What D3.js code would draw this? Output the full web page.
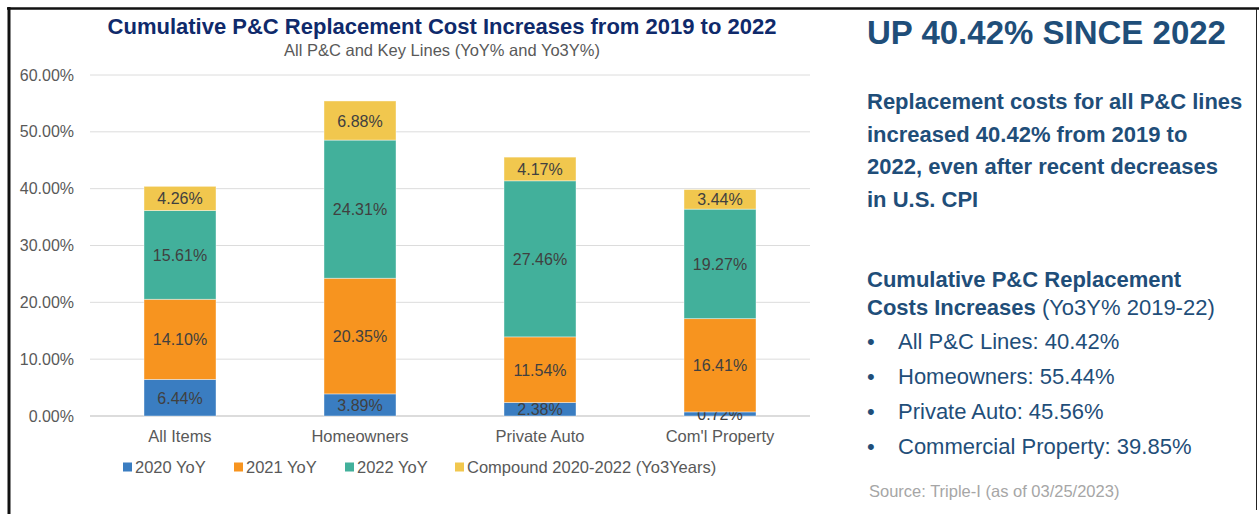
<!DOCTYPE html>
<html>
<head>
<meta charset="utf-8">
<script src="https://cdn.jsdelivr.net/npm/d3@7"></script>
<style>
  body { margin: 0; background: #fff; }
  svg { display: block; font-family: "Liberation Sans", Arial, sans-serif; }
</style>
</head>
<body>
<svg id="chart" width="1259" height="514"></svg>
<script>
const categories = ["All Items", "Homeowners", "Private Auto", "Com'l Property"];
const seriesNames = ["2020 YoY", "2021 YoY", "2022 YoY", "Compound 2020-2022 (Yo3Years)"];
const yoy2020 = [6.44, 3.89, 2.38, 0.72];
const yoy2021 = [14.10, 20.35, 11.54, 16.41];
const yoy2022 = [15.61, 24.31, 27.46, 19.27];
const compound = [4.26, 6.88, 4.17, 3.44];
const yTicks = [0, 10, 20, 30, 40, 50, 60];
const colours = ["#3A7DC1", "#F7941F", "#42B09B", "#F1C74E"];

const bullets = [
  "All P&C Lines: 40.42%",
  "Homeowners: 55.44%",
  "Private Auto: 45.56%",
  "Commercial Property: 39.85%"
];
const paragraph = [
  "Replacement costs for all P&C lines",
  "increased 40.42% from 2019 to",
  "2022, even after recent decreases",
  "in U.S. CPI"
];

const svg = d3.select("#chart");

// frame lines
svg.append("line").attr("x1", 7).attr("x2", 1259).attr("y1", 8.5).attr("y2", 8.5)
  .attr("stroke", "#111").attr("stroke-width", 2.5);
svg.append("line").attr("x1", 9).attr("x2", 9).attr("y1", 7).attr("y2", 514)
  .attr("stroke", "#111").attr("stroke-width", 3);
svg.append("line").attr("x1", 1256.5).attr("x2", 1256.5).attr("y1", 9).attr("y2", 510)
  .attr("stroke", "#222").attr("stroke-width", 1);

// data table for the stack
const table = categories.map((c, i) => ({
  cat: c,
  s0: yoy2020[i], s1: yoy2021[i], s2: yoy2022[i], s3: compound[i]
}));
const stack = d3.stack().keys(["s0", "s1", "s2", "s3"])(table);

const x = d3.scaleBand().domain(categories).range([90, 810]).paddingInner(0.6).paddingOuter(0.3);
const y = d3.scaleLinear().domain([0, 60]).range([416, 75]);

// gridlines
svg.append("g").selectAll("line").data(yTicks).join("line")
  .attr("x1", 90).attr("x2", 810)
  .attr("y1", d => y(d)).attr("y2", d => y(d))
  .attr("stroke", d => d === 0 ? "#D0D0D0" : "#DCDCDC").attr("stroke-width", d => d === 0 ? 1.5 : 1);

// y labels
svg.append("g").selectAll("text").data(yTicks).join("text")
  .attr("x", 74).attr("y", d => y(d) + 5.5)
  .attr("text-anchor", "end").attr("font-size", 16).attr("fill", "#595959")
  .text(d => d.toFixed(2) + "%");

// bars
const layers = svg.append("g").selectAll("g").data(stack).join("g")
  .attr("fill", (d, i) => colours[i]);
layers.selectAll("rect").data(d => d).join("rect")
  .attr("x", d => x(d.data.cat))
  .attr("width", x.bandwidth())
  .attr("y", d => y(d[1]))
  .attr("height", d => y(d[0]) - y(d[1]))
  .attr("stroke", "#ffffff").attr("stroke-opacity", 0.5).attr("stroke-width", 0.8);

// segment labels
layers.selectAll("text").data(d => d.map(p => ({ p, v: p[1] - p[0] }))).join("text")
  .attr("x", d => x(d.p.data.cat) + x.bandwidth() / 2)
  .attr("y", d => y((d.p[0] + d.p[1]) / 2) + 6)
  .attr("text-anchor", "middle").attr("font-size", 16).attr("fill", "#404040")
  .text(d => d.v.toFixed(2) + "%");

// x labels
svg.append("g").selectAll("text").data(categories).join("text")
  .attr("x", d => x(d) + x.bandwidth() / 2).attr("y", 442)
  .attr("text-anchor", "middle").attr("font-size", 16.5).attr("fill", "#595959")
  .text(d => d);

// legend
const legendX = [123, 234, 345, 455];
const legend = svg.append("g").selectAll("g").data(seriesNames).join("g")
  .attr("transform", (d, i) => `translate(${legendX[i]},467)`);
legend.append("rect").attr("x", 0).attr("y", -4.5).attr("width", 9).attr("height", 9)
  .attr("fill", (d, i) => colours[i]);
legend.append("text").attr("x", 12).attr("y", 6)
  .attr("font-size", 16.5).attr("fill", "#595959").text(d => d);

// titles
svg.append("text").attr("x", 442).attr("y", 34).attr("text-anchor", "middle")
  .attr("font-size", 22).attr("font-weight", "bold").attr("fill", "#0F2A6B")
  .text("Cumulative P&C Replacement Cost Increases from 2019 to 2022");
svg.append("text").attr("x", 442).attr("y", 56).attr("text-anchor", "middle")
  .attr("font-size", 16.5).attr("fill", "#595959")
  .text("All P&C and Key Lines (YoY% and Yo3Y%)");

// right panel
const blue = "#1F4E79";
svg.append("text").attr("x", 867).attr("y", 44)
  .attr("font-size", 33).attr("font-weight", "bold").attr("fill", blue)
  .text("UP 40.42% SINCE 2022");

svg.append("g").selectAll("text").data(paragraph).join("text")
  .attr("x", 867).attr("y", (d, i) => 109 + i * 32.5)
  .attr("font-size", 22).attr("font-weight", "bold").attr("fill", blue)
  .text(d => d);

svg.append("text").attr("x", 867).attr("y", 287)
  .attr("font-size", 22).attr("font-weight", "bold").attr("fill", blue)
  .text("Cumulative P&C Replacement");
const t2 = svg.append("text").attr("x", 867).attr("y", 315)
  .attr("font-size", 22).attr("fill", blue);
t2.append("tspan").attr("font-weight", "bold").text("Costs Increases");
t2.append("tspan").text(" (Yo3Y% 2019-22)");

const bl = svg.append("g").selectAll("g").data(bullets).join("g")
  .attr("transform", (d, i) => `translate(867,${349 + i * 35})`);
bl.append("text").attr("x", 0).attr("y", 0).attr("font-size", 22).attr("fill", blue).text("•");
bl.append("text").attr("x", 31).attr("y", 0).attr("font-size", 22).attr("fill", blue).text(d => d);

svg.append("text").attr("x", 869).attr("y", 497)
  .attr("font-size", 16.5).attr("fill", "#A6A6A6")
  .text("Source: Triple-I (as of 03/25/2023)");
</script>
</body>
</html>
